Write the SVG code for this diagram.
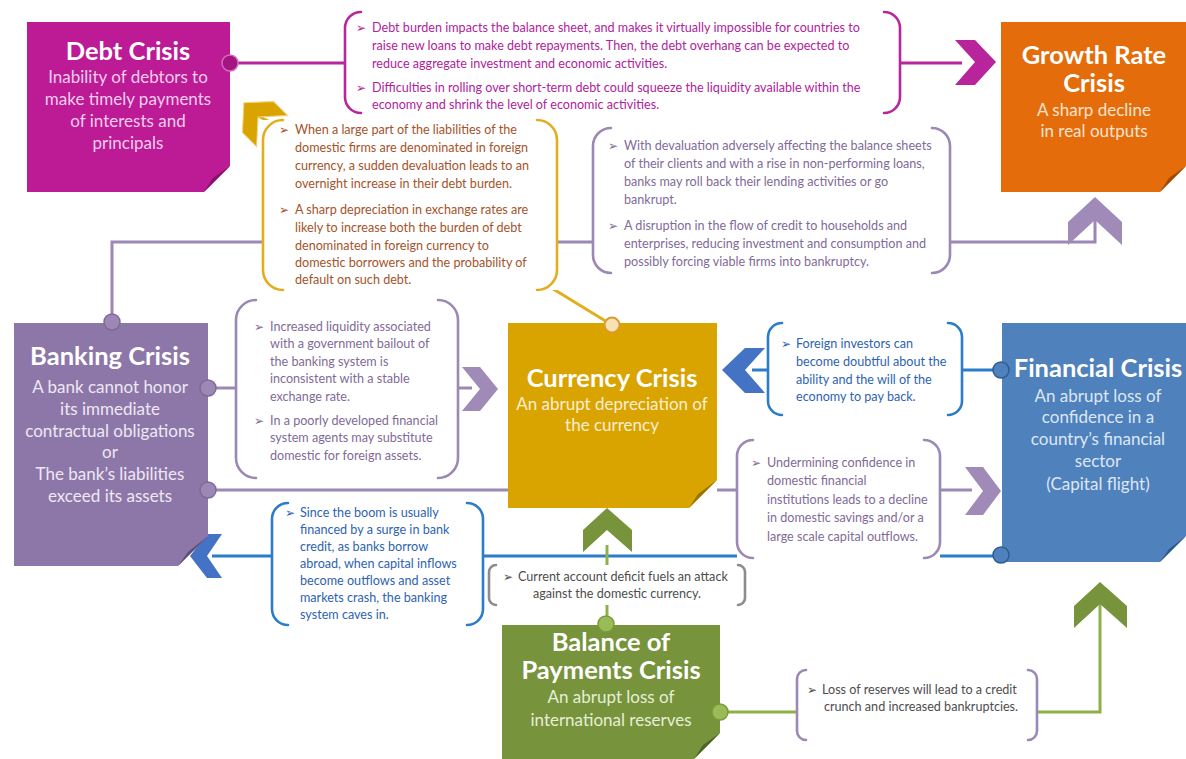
<svg xmlns="http://www.w3.org/2000/svg" width="1186" height="759" viewBox="0 0 1186 759">
<style>
text{font-family:Lato,"Liberation Sans","DejaVu Sans",sans-serif}
.title{font-weight:bold;font-size:25.5px;fill:#fff;text-anchor:middle}
.sub{font-size:17px;text-anchor:middle}
.t{font-size:12.6px}
.b{font-size:12px;font-family:"DejaVu Sans",sans-serif}
.br{fill:none;stroke-width:2.6;stroke-linecap:round}
.wf{fill:#fff;stroke:none}
.ln{fill:none;stroke-width:3}
.mg{fill:#B0239A}.mgs{stroke:#B8259C}
.og{fill:#A5532A}.ogs{stroke:#E0AE1E}
.pp{fill:#7F6B97}.pps{stroke:#9C88B4}
.bl{fill:#2E63B0}.bls{stroke:#2B7CC9}
.gr{fill:#4D4D4D}.grs{stroke:#8C8C8C}
.gn{stroke:#8DB04A}
</style>

<g id="connectors">
  <!-- magenta debt -> growth -->
  <line class="ln mgs" x1="236" y1="63" x2="345" y2="63"/>
  <line class="ln mgs" x1="900" y1="63" x2="962" y2="63"/>
  <polygon fill="#B8249B" points="955,40 975,40 996,62 975,85 955,85 975,62"/>
  <!-- purple banking -> growth -->
  <polyline class="ln pps" points="112,316 112,242 263,242"/>
  <line class="ln pps" x1="557" y1="242" x2="593" y2="242"/>
  <polyline class="ln pps" points="950,242 1095,242 1095,220"/>
  <polygon fill="#9F8AB8" points="1068,222 1095,197 1122,222 1122,245 1095,220 1068,245"/>
  <!-- banking -> currency -->
  <line class="ln pps" x1="214" y1="388" x2="236" y2="388"/>
  <line class="ln pps" x1="458" y1="388" x2="472" y2="388"/>
  <polygon fill="#9F8AB8" points="462,367 480,367 498,389 480,411 462,411 480,389"/>
  <!-- banking -> financial -->
  <line class="ln pps" x1="214" y1="490" x2="508" y2="490"/>
  <line class="ln pps" x1="717" y1="490" x2="737" y2="490"/>
  <line class="ln pps" x1="940" y1="490" x2="972" y2="490"/>
  <polygon fill="#9F8AB8" points="965,467 983,467 1001,491 983,515 965,515 983,491"/>
  <!-- financial -> currency -->
  <line class="ln bls" x1="995" y1="370" x2="962" y2="370"/>
  <line class="ln bls" x1="768" y1="370" x2="752" y2="370"/>
  <polygon fill="#4472C4" points="765,348 745,348 722,370 745,393 765,393 745,370"/>
  <!-- financial -> banking -->
  <line class="ln bls" x1="995" y1="556" x2="483" y2="556"/>
  <line class="ln bls" x1="272" y1="556" x2="212" y2="556"/>
  <polygon fill="#4472C4" points="222,534 207,534 190,556 207,578 222,578 207,556"/>
  <!-- currency -> debt -->
  <line class="ln ogs" x1="612" y1="325" x2="550" y2="287"/>
  <line class="ln ogs" x1="284" y1="129" x2="256" y2="115"/>
  <polygon fill="#D9A300" stroke="#F3D27A" stroke-width="1" transform="translate(258,117) rotate(-135)" points="-20,-22 0,-22 20,0 0,22 -20,22 0,0"/>
  <!-- balance of payments -> currency -->
  <line class="ln gn" x1="607" y1="545" x2="607" y2="565"/>
  <line class="ln gn" x1="607" y1="605" x2="607" y2="620"/>
  <polygon fill="#77933C" points="583,530 607,508 632,530 632,552 607,530 583,552"/>
  <!-- balance of payments -> financial -->
  <polyline class="ln gn" points="726,712 797,712"/>
  <polyline class="ln gn" points="1037,712 1100,712 1100,600"/>
  <polygon fill="#77933C" points="1074,606 1100,582 1127,606 1127,628 1100,604 1074,628"/>
</g>

<g id="debt-crisis">
  <polygon fill="#BD1A96" points="27,22 230,22 230,166 204,192 27,192"/>
  <polygon fill="#86106A" points="204,192 230,166 213,178"/>
  <text class="title" x="128" y="60">Debt Crisis</text>
  <g fill="#F3CDEA">
    <text class="sub" x="128" y="83">Inability of debtors to</text>
    <text class="sub" x="128" y="105">make timely payments</text>
    <text class="sub" x="128" y="127">of interests and</text>
    <text class="sub" x="128" y="149">principals</text>
  </g>
  <circle cx="230" cy="63" r="8" fill="#A3157F" stroke="#D46BBE" stroke-width="1.5"/>
</g>

<g id="growth-rate-crisis">
  <polygon fill="#E46C0A" points="1001,22 1186,22 1186,166 1160,192 1001,192"/>
  <polygon fill="#9E4A06" points="1160,192 1186,166 1169,178"/>
  <text class="title" x="1094" y="64">Growth Rate</text>
  <text class="title" x="1094" y="92">Crisis</text>
  <g fill="#FCE3CE">
    <text class="sub" x="1094" y="116">A sharp decline</text>
    <text class="sub" x="1094" y="137">in real outputs</text>
  </g>
</g>

<g id="banking-crisis">
  <polygon fill="#8D77A8" points="14,323 208,323 208,536 178,566 14,566"/>
  <polygon fill="#5E4C74" points="178,566 208,536 188,552"/>
  <text class="title" x="110" y="365">Banking Crisis</text>
  <g fill="#EEE8F4">
    <text class="sub" x="110" y="393">A bank cannot honor</text>
    <text class="sub" x="110" y="415">its immediate</text>
    <text class="sub" x="110" y="437">contractual obligations</text>
    <text class="sub" x="110" y="458">or</text>
    <text class="sub" x="110" y="480">The bank’s liabilities</text>
    <text class="sub" x="110" y="502">exceed its assets</text>
  </g>
  <circle cx="112" cy="322" r="8" fill="#9D88B5" stroke="#7E6A97" stroke-width="1.5"/>
  <circle cx="208" cy="388" r="8" fill="#9D88B5" stroke="#7E6A97" stroke-width="1.5"/>
  <circle cx="208" cy="490" r="8" fill="#9D88B5" stroke="#7E6A97" stroke-width="1.5"/>
</g>

<g id="currency-crisis">
  <polygon fill="#D9A300" points="508,323 717,323 717,480 689,508 508,508"/>
  <polygon fill="#9A7300" points="689,508 717,480 698,494"/>
  <text class="title" x="612" y="387">Currency Crisis</text>
  <g fill="#FBEFD0">
    <text class="sub" x="612" y="410">An abrupt depreciation of</text>
    <text class="sub" x="612" y="431">the currency</text>
  </g>
  <circle cx="612" cy="325" r="7.5" fill="#F7E2B5" stroke="#E09A2C" stroke-width="2"/>
</g>

<g id="financial-crisis">
  <polygon fill="#4F81BD" points="1002,323 1186,323 1186,536 1160,562 1002,562"/>
  <polygon fill="#2E5A8E" points="1160,562 1186,536 1169,549"/>
  <text class="title" x="1098" y="377">Financial Crisis</text>
  <g fill="#DDE7F3">
    <text class="sub" x="1098" y="402">An abrupt loss of</text>
    <text class="sub" x="1098" y="423">confidence in a</text>
    <text class="sub" x="1098" y="445">country’s financial</text>
    <text class="sub" x="1098" y="467">sector</text>
    <text class="sub" x="1098" y="490">(Capital flight)</text>
  </g>
  <circle cx="1001" cy="370" r="8" fill="#4F81BD" stroke="#2E5C94" stroke-width="1.5"/>
  <circle cx="1001" cy="555" r="8" fill="#4F81BD" stroke="#2E5C94" stroke-width="1.5"/>
</g>

<g id="balance-of-payments-crisis">
  <polygon fill="#77933C" points="502,625 720,625 720,733 694,759 502,759"/>
  <polygon fill="#4F6326" points="694,759 720,733 703,745"/>
  <text class="title" x="611" y="651">Balance of</text>
  <text class="title" x="611" y="679">Payments Crisis</text>
  <g fill="#E6EFD6">
    <text class="sub" x="611" y="703">An abrupt loss of</text>
    <text class="sub" x="611" y="726">international reserves</text>
  </g>
  <circle cx="606" cy="624" r="8" fill="#9BBB59" stroke="#7A9A3C" stroke-width="1.5"/>
  <circle cx="720" cy="712" r="8" fill="#9BBB59" stroke="#7A9A3C" stroke-width="1.5"/>
</g>

<g id="note-debt-growth">
  <rect class="wf" x="345" y="12" width="555" height="101"/>
  <path class="br mgs" d="M361,12 A16,16 0 0 0 345,28 V97 A16,16 0 0 0 361,113 M884,12 A16,16 0 0 1 900,28 V97 A16,16 0 0 1 884,113"/>
  <g class="mg">
    <text class="b" x="356" y="32">➢</text>
    <text class="t" x="372" y="32">Debt burden impacts the balance sheet, and makes it virtually impossible for countries to</text>
    <text class="t" x="372" y="50">raise new loans to make debt repayments. Then, the debt overhang can be expected to</text>
    <text class="t" x="372" y="68">reduce aggregate  investment and economic activities.</text>
    <text class="b" x="356" y="92">➢</text>
    <text class="t" x="372" y="92">Difficulties in rolling over short-term debt  could squeeze the liquidity available within the</text>
    <text class="t" x="372" y="109">economy and shrink the level of economic activities.</text>
  </g>
</g>

<g id="note-currency-debt">
  <rect class="wf" x="263" y="120" width="294" height="170"/>
  <path class="br ogs" d="M283,120 A20,20 0 0 0 263,140 V270 A20,20 0 0 0 283,290 M537,120 A20,20 0 0 1 557,140 V270 A20,20 0 0 1 537,290"/>
  <g class="og">
    <text class="b" x="279" y="134">➢</text>
    <text class="t" x="295" y="134">When a large part of the liabilities of the</text>
    <text class="t" x="295" y="152">domestic firms are denominated in foreign</text>
    <text class="t" x="295" y="170">currency, a sudden devaluation leads to an</text>
    <text class="t" x="295" y="188">overnight increase in their debt burden.</text>
    <text class="b" x="279" y="214">➢</text>
    <text class="t" x="295" y="214">A sharp depreciation in exchange rates are</text>
    <text class="t" x="295" y="232">likely to increase both the burden of debt</text>
    <text class="t" x="295" y="250">denominated in foreign currency to</text>
    <text class="t" x="295" y="267">domestic borrowers and the probability of</text>
    <text class="t" x="295" y="284">default on such debt.</text>
  </g>
</g>

<g id="note-banking-growth">
  <rect class="wf" x="593" y="128" width="357" height="145"/>
  <path class="br pps" d="M611,128 A18,18 0 0 0 593,146 V255 A18,18 0 0 0 611,273 M932,128 A18,18 0 0 1 950,146 V255 A18,18 0 0 1 932,273"/>
  <g class="pp">
    <text class="b" x="608" y="150">➢</text>
    <text class="t" x="624" y="150">With devaluation adversely affecting the balance sheets</text>
    <text class="t" x="624" y="168">of their clients and with a rise in non-performing loans,</text>
    <text class="t" x="624" y="186">banks may roll back their lending activities or go</text>
    <text class="t" x="624" y="204">bankrupt.</text>
    <text class="b" x="608" y="230">➢</text>
    <text class="t" x="624" y="230">A disruption in the flow of credit to households and</text>
    <text class="t" x="624" y="248">enterprises, reducing investment and consumption and</text>
    <text class="t" x="624" y="266">possibly forcing viable firms into bankruptcy.</text>
  </g>
</g>

<g id="note-banking-currency">
  <rect class="wf" x="236" y="300" width="222" height="178"/>
  <path class="br pps" d="M256,300 A20,20 0 0 0 236,320 V458 A20,20 0 0 0 256,478 M438,300 A20,20 0 0 1 458,320 V458 A20,20 0 0 1 438,478"/>
  <g class="pp">
    <text class="b" x="254" y="331">➢</text>
    <text class="t" x="270" y="331">Increased liquidity associated</text>
    <text class="t" x="270" y="348">with a government bailout of</text>
    <text class="t" x="270" y="366">the banking system is</text>
    <text class="t" x="270" y="383">inconsistent with a stable</text>
    <text class="t" x="270" y="401">exchange rate.</text>
    <text class="b" x="254" y="425">➢</text>
    <text class="t" x="270" y="425">In a poorly developed financial</text>
    <text class="t" x="270" y="442">system agents may substitute</text>
    <text class="t" x="270" y="460">domestic for  foreign assets.</text>
  </g>
</g>

<g id="note-financial-currency">
  <rect class="wf" x="768" y="323" width="194" height="92"/>
  <path class="br bls" d="M782,323 A14,14 0 0 0 768,337 V401 A14,14 0 0 0 782,415 M948,323 A14,14 0 0 1 962,337 V401 A14,14 0 0 1 948,415"/>
  <g class="bl">
    <text class="b" x="781" y="348">➢</text>
    <text class="t" x="796" y="348">Foreign investors can</text>
    <text class="t" x="796" y="366">become doubtful about the</text>
    <text class="t" x="796" y="384">ability and the will of the</text>
    <text class="t" x="796" y="401">economy to pay back.</text>
  </g>
</g>

<g id="note-banking-financial">
  <rect class="wf" x="737" y="440" width="203" height="118"/>
  <path class="br pps" d="M753,440 A16,16 0 0 0 737,456 V542 A16,16 0 0 0 753,558 M924,440 A16,16 0 0 1 940,456 V542 A16,16 0 0 1 924,558"/>
  <g class="pp">
    <text class="b" x="751" y="467">➢</text>
    <text class="t" x="767" y="467">Undermining confidence in</text>
    <text class="t" x="767" y="485">domestic financial</text>
    <text class="t" x="767" y="504">institutions leads to a decline</text>
    <text class="t" x="767" y="522">in domestic savings and/or a</text>
    <text class="t" x="767" y="541">large scale capital outflows.</text>
  </g>
</g>

<g id="note-financial-banking">
  <rect class="wf" x="272" y="503" width="211" height="122"/>
  <path class="br bls" d="M288,503 A16,16 0 0 0 272,519 V609 A16,16 0 0 0 288,625 M467,503 A16,16 0 0 1 483,519 V609 A16,16 0 0 1 467,625"/>
  <g class="bl">
    <text class="b" x="285" y="517">➢</text>
    <text class="t" x="300" y="517">Since the boom is usually</text>
    <text class="t" x="300" y="534">financed by a surge in bank</text>
    <text class="t" x="300" y="551">credit, as banks borrow</text>
    <text class="t" x="300" y="568">abroad, when capital inflows</text>
    <text class="t" x="300" y="585">become outflows and asset</text>
    <text class="t" x="300" y="602">markets crash, the banking</text>
    <text class="t" x="300" y="619">system caves in.</text>
  </g>
</g>

<g id="note-bop-currency">
  <rect class="wf" x="489" y="565" width="256" height="40"/>
  <path class="br grs" d="M496,565 A7,7 0 0 0 489,572 V598 A7,7 0 0 0 496,605 M738,565 A7,7 0 0 1 745,572 V598 A7,7 0 0 1 738,605"/>
  <g class="gr">
    <text class="b" x="503" y="581">➢</text>
    <text class="t" x="518" y="581">Current account deficit  fuels an attack</text>
    <text class="t" x="617" y="598" text-anchor="middle">against the domestic currency.</text>
  </g>
</g>

<g id="note-bop-financial">
  <rect class="wf" x="797" y="670" width="240" height="70"/>
  <path class="br pps" d="M806,670 A9,9 0 0 0 797,679 V731 A9,9 0 0 0 806,740 M1028,670 A9,9 0 0 1 1037,679 V731 A9,9 0 0 1 1028,740"/>
  <g class="gr">
    <text class="b" x="807" y="694">➢</text>
    <text class="t" x="822" y="694">Loss of  reserves will lead to a credit</text>
    <text class="t" x="921" y="711" text-anchor="middle">crunch and increased bankruptcies.</text>
  </g>
</g>
</svg>
